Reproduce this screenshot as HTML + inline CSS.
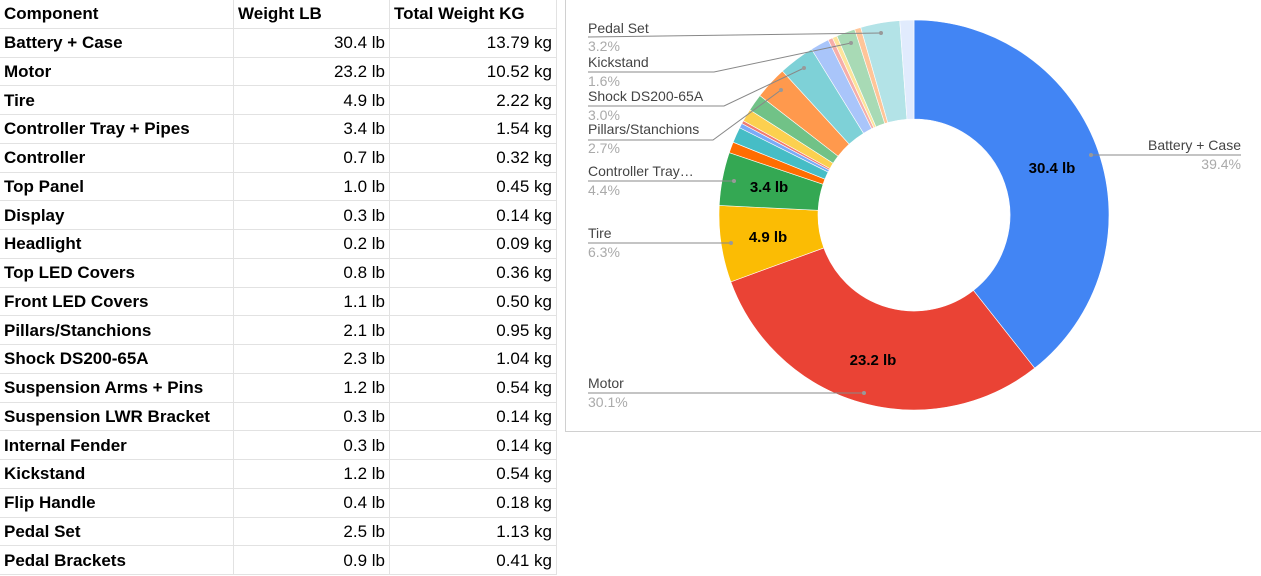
<!DOCTYPE html>
<html><head><meta charset="utf-8">
<style>
body{margin:0;width:1261px;height:576px;background:#fff;overflow:hidden;position:relative;font-family:"Liberation Sans",Arial,sans-serif}
table{position:absolute;left:0;top:0;border-collapse:collapse;font-size:17px;color:#000}
td{height:27.75px;padding:0 4px;border-right:1px solid #e2e2e2;border-bottom:1px solid #e2e2e2;white-space:nowrap;line-height:27px}
td:first-child{width:225px;font-weight:bold}
td:nth-child(2){width:147px;text-align:right}
td:nth-child(3){width:158px;text-align:right}
tr.h td{font-weight:bold;text-align:left}
#chart{position:absolute;left:565px;top:0;width:696px;height:431px;border-left:1px solid #d0d0d0;border-bottom:1px solid #d0d0d0}
</style></head><body>
<table>
<tr class="h"><td>Component</td><td>Weight LB</td><td>Total Weight KG</td></tr>
<tr><td>Battery + Case</td><td>30.4 lb</td><td>13.79 kg</td></tr>
<tr><td>Motor</td><td>23.2 lb</td><td>10.52 kg</td></tr>
<tr><td>Tire</td><td>4.9 lb</td><td>2.22 kg</td></tr>
<tr><td>Controller Tray + Pipes</td><td>3.4 lb</td><td>1.54 kg</td></tr>
<tr><td>Controller</td><td>0.7 lb</td><td>0.32 kg</td></tr>
<tr><td>Top Panel</td><td>1.0 lb</td><td>0.45 kg</td></tr>
<tr><td>Display</td><td>0.3 lb</td><td>0.14 kg</td></tr>
<tr><td>Headlight</td><td>0.2 lb</td><td>0.09 kg</td></tr>
<tr><td>Top LED Covers</td><td>0.8 lb</td><td>0.36 kg</td></tr>
<tr><td>Front LED Covers</td><td>1.1 lb</td><td>0.50 kg</td></tr>
<tr><td>Pillars/Stanchions</td><td>2.1 lb</td><td>0.95 kg</td></tr>
<tr><td>Shock DS200-65A</td><td>2.3 lb</td><td>1.04 kg</td></tr>
<tr><td>Suspension Arms + Pins</td><td>1.2 lb</td><td>0.54 kg</td></tr>
<tr><td>Suspension LWR Bracket</td><td>0.3 lb</td><td>0.14 kg</td></tr>
<tr><td>Internal Fender</td><td>0.3 lb</td><td>0.14 kg</td></tr>
<tr><td>Kickstand</td><td>1.2 lb</td><td>0.54 kg</td></tr>
<tr><td>Flip Handle</td><td>0.4 lb</td><td>0.18 kg</td></tr>
<tr><td>Pedal Set</td><td>2.5 lb</td><td>1.13 kg</td></tr>
<tr><td>Pedal Brackets</td><td>0.9 lb</td><td>0.41 kg</td></tr>
</table>
<svg id="chart" width="696" height="431" viewBox="565 0 696 431" xmlns="http://www.w3.org/2000/svg" font-family="Liberation Sans, Arial, sans-serif">
<g id="sl"></g>
<g stroke="#888" fill="none" stroke-width="1">
<polyline points="587,37 880,33"/>
<polyline points="587,72 713,72 850,43"/>
<polyline points="587,106 723,106 803,68"/>
<polyline points="587,140 712,140 780,90"/>
<polyline points="587,181 733,181"/>
<polyline points="587,243 730,243"/>
<polyline points="587,393 863,393"/>
<polyline points="1090,155 1240,155"/>
</g>
<g fill="#999"><circle cx="880" cy="33" r="2"/><circle cx="850" cy="43" r="2"/><circle cx="803" cy="68" r="2"/><circle cx="780" cy="90" r="2"/><circle cx="733" cy="181" r="2"/><circle cx="730" cy="243" r="2"/><circle cx="863" cy="393" r="2"/><circle cx="1090" cy="155" r="2"/></g>
<g font-size="14" fill="#444">
<text x="587" y="33">Pedal Set</text>
<text x="587" y="67">Kickstand</text>
<text x="587" y="101">Shock DS200-65A</text>
<text x="587" y="134">Pillars/Stanchions</text>
<text x="587" y="176">Controller Tray…</text>
<text x="587" y="238">Tire</text>
<text x="587" y="388">Motor</text>
<text x="1240" y="150" text-anchor="end">Battery + Case</text>
</g>
<g font-size="14" fill="#aaa">
<text x="587" y="51">3.2%</text>
<text x="587" y="86">1.6%</text>
<text x="587" y="120">3.0%</text>
<text x="587" y="153">2.7%</text>
<text x="587" y="195">4.4%</text>
<text x="587" y="257">6.3%</text>
<text x="587" y="407">30.1%</text>
<text x="1240" y="169" text-anchor="end">39.4%</text>
</g>
<g font-size="15" font-weight="bold" fill="#000" text-anchor="middle">
<text x="1051" y="173">30.4 lb</text>
<text x="872" y="365">23.2 lb</text>
<text x="767" y="242">4.9 lb</text>
<text x="768" y="192">3.4 lb</text>
</g>
</svg>
<script>
var v=[30.4,23.2,4.9,3.4,0.7,1.0,0.3,0.2,0.8,1.1,2.1,2.3,1.2,0.3,0.3,1.2,0.4,2.5,0.9];
var c=["#4285f4","#ea4335","#fbbc04","#34a853","#ff6d01","#46bdc6","#7baaf7","#f07b72","#fcd04f","#71c287","#ff994d","#7ed1d7","#a9c5fa","#f6aea9","#fde49b","#a8dab5","#ffc599","#b3e3e7","#e1ebfd"];
var t=v.reduce(function(a,b){return a+b},0),cx=913,cy=215,R=195,r=96,a=0,s="";
function p(rad,ang){return [cx+rad*Math.sin(ang),cy-rad*Math.cos(ang)];}
for(var i=0;i<v.length;i++){var a2=a+v[i]/t*2*Math.PI,l=(a2-a)>Math.PI?1:0;
var A=p(R,a),B=p(R,a2),C=p(r,a2),D=p(r,a);
s+='<path fill="'+c[i]+'" stroke="#fff" stroke-width="0.6" d="M'+A+' A'+R+','+R+' 0 '+l+' 1 '+B+' L'+C+' A'+r+','+r+' 0 '+l+' 0 '+D+'Z"/>';a=a2;}
document.getElementById("sl").innerHTML=s;
</script>
</body></html>
